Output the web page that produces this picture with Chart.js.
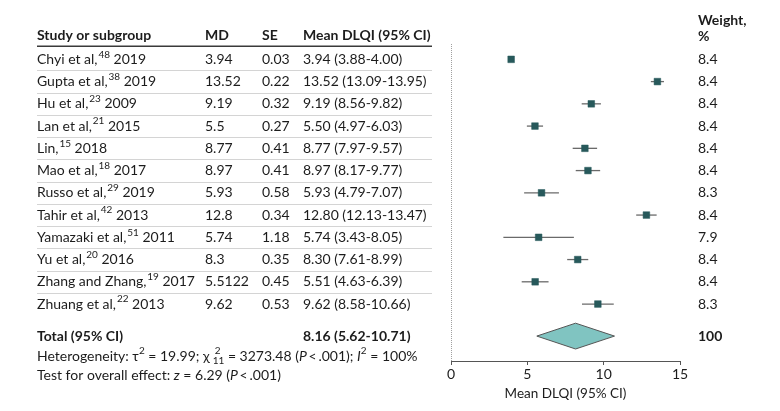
<!DOCTYPE html>
<html><head><meta charset="utf-8">
<script src="https://cdn.jsdelivr.net/npm/chart.js@4"></script>
<style>html,body{margin:0;padding:0;background:#fff}#wrap{width:780px;height:411px}</style>
</head><body><div id="wrap"><canvas id="c" width="780" height="411"></canvas></div>
<script>
// ---- data ----
const studies = ["Chyi et al,", "Gupta et al,", "Hu et al,", "Lan et al,", "Lin,", "Mao et al,", "Russo et al,", "Tahir et al,", "Yamazaki et al,", "Yu et al,", "Zhang and Zhang,", "Zhuang et al,"];
const refs = ["48", "38", "23", "21", "15", "18", "29", "42", "51", "20", "19", "22"];
const years = ["2019", "2019", "2009", "2015", "2018", "2017", "2019", "2013", "2011", "2016", "2017", "2013"];
const md = [3.94, 13.52, 9.19, 5.5, 8.77, 8.97, 5.93, 12.8, 5.74, 8.3, 5.5122, 9.62];
const se = [0.03, 0.22, 0.32, 0.27, 0.41, 0.41, 0.58, 0.34, 1.18, 0.35, 0.45, 0.53];
const ciLow = [3.88, 13.09, 8.56, 4.97, 7.97, 8.17, 4.79, 12.13, 3.43, 7.61, 4.63, 8.58];
const ciHigh = [4.00, 13.95, 9.82, 6.03, 9.57, 9.77, 7.07, 13.47, 8.05, 8.99, 6.39, 10.66];
const weights = [8.4, 8.4, 8.4, 8.4, 8.4, 8.4, 8.3, 8.4, 7.9, 8.4, 8.4, 8.3];
const totalMean = 8.16, totalLow = 5.62, totalHigh = 10.71, totalWeight = 100;
const xTicks = [0, 5, 10, 15];
const axisTitle = "Mean DLQI (95% CI)";

// ---- layout constants ----
const FONT = "Lato";
const TXT = "#1c1c1c";
const totalRow = 12.44;
const diamondHalf = 0.58;
const colStudy = 37, colMD = 205, colSE = 262, colCI = 303, colW = 698, tableRight = 432;

const whiskerSets = md.map((m, i) => ({
  data: [{x: ciLow[i], y: i}, {x: ciHigh[i], y: i}],
  showLine: true, borderColor: "#6a6a6a", borderWidth: 1.3, pointRadius: 0, order: 2
}));

const squares = {
  data: md.map((m, i) => ({x: m, y: i})),
  pointStyle: "rect", pointRadius: 4.7, backgroundColor: "#27595b",
  borderColor: "#27595b", borderWidth: 0.5, showLine: false, order: 1
};

const diamond = {
  data: [{x: totalLow, y: totalRow}, {x: totalMean, y: totalRow - diamondHalf},
         {x: totalHigh, y: totalRow}, {x: totalMean, y: totalRow + diamondHalf},
         {x: totalLow, y: totalRow}],
  showLine: true, fill: "shape", backgroundColor: "#80c4c1", borderColor: "#555",
  borderWidth: 1, pointRadius: 0, tension: 0, order: 3
};

function runs(ctx, x, y, parts, size) {
  const small = 10;
  for (const p of parts) {
    if (p.s === "sup") {
      ctx.font = `${small}px ${FONT}`;
      ctx.fillText(p.t, x, y - 5);
      x += ctx.measureText(p.t).width;
    } else if (p.s === "supsub") {
      ctx.font = `${small}px ${FONT}`;
      x += 3;
      ctx.fillText(p.sup, x + 2, y - 5);
      ctx.fillText(p.sub, x, y + 5);
      x += Math.max(ctx.measureText(p.sup).width + 2, ctx.measureText(p.sub).width);
    } else {
      ctx.font = `${p.s === "i" ? "italic " : ""}${p.b ? "bold " : ""}${size}px ${FONT}`;
      ctx.fillText(p.t, x, y);
      x += ctx.measureText(p.t).width;
    }
  }
  return x;
}

const tablePlugin = {
  id: "table",
  afterDraw(chart) {
    const ctx = chart.ctx;
    const ys = chart.scales.y;
    const py = v => ys.getPixelForValue(v);
    const y0 = py(0);
    const S = 14;
    ctx.save();
    ctx.fillStyle = TXT;
    ctx.textBaseline = "middle";
    ctx.textAlign = "left";
    // headers
    const hy = y0 - 23.5;
    ctx.font = `bold ${S}px ${FONT}`;
    ctx.fillText("Study or subgroup", colStudy, hy);
    ctx.fillText("MD", colMD, hy);
    ctx.fillText("SE", colSE, hy);
    ctx.fillText("Mean DLQI (95% CI)", colCI, hy);
    ctx.fillText("Weight,", colW, y0 - 38.5);
    ctx.fillText("%", colW, y0 - 23);
    // header rule
    ctx.strokeStyle = "#3a3a3a";
    ctx.lineWidth = 1.5;
    ctx.beginPath(); ctx.moveTo(colStudy, y0 - 13); ctx.lineTo(tableRight, y0 - 13); ctx.stroke();
    // row separators
    ctx.strokeStyle = "#d4d4d4";
    ctx.lineWidth = 1;
    for (let i = 0; i < studies.length - 1; i++) {
      const sy = Math.round((py(i) + py(i + 1)) / 2) + 0.5;
      ctx.beginPath(); ctx.moveTo(colStudy, sy); ctx.lineTo(tableRight, sy); ctx.stroke();
    }
    // rows
    ctx.fillStyle = TXT;
    studies.forEach((name, i) => {
      const y = py(i);
      runs(ctx, colStudy, y, [{t: name}, {t: "\u200a"}, {s: "sup", t: refs[i]}, {t: " " + years[i]}], S);
      ctx.font = `${S}px ${FONT}`;
      ctx.fillText(String(md[i]), colMD, y);
      ctx.fillText(se[i].toFixed(2), colSE, y);
      ctx.fillText(`${md[i].toFixed(2)} (${ciLow[i].toFixed(2)}-${ciHigh[i].toFixed(2)})`, colCI, y);
      ctx.fillText(weights[i].toFixed(1), colW, y);
    });
    // total
    const ty = py(totalRow);
    ctx.font = `bold ${S}px ${FONT}`;
    ctx.fillText("Total (95% CI)", colStudy, ty);
    ctx.fillText(`${totalMean.toFixed(2)} (${totalLow.toFixed(2)}-${totalHigh.toFixed(2)})`, colCI, ty);
    ctx.fillText(String(totalWeight), colW, ty);
    // heterogeneity
    runs(ctx, colStudy, ty + 20, [
      {t: "Heterogeneity: \u03c4"}, {s: "sup", t: "2"}, {t: " = 19.99; \u03c7"},
      {s: "supsub", sup: "2", sub: "11"}, {t: " = 3273.48 ("}, {s: "i", t: "P"},
      {t: "\u2009<\u2009.001); "}, {s: "i", t: "I"}, {s: "sup", t: "2"}, {t: " = 100%"}
    ], S);
    runs(ctx, colStudy, ty + 39, [
      {t: "Test for overall effect: "}, {s: "i", t: "z"}, {t: " = 6.29 ("}, {s: "i", t: "P"},
      {t: "\u2009<\u2009.001)"}
    ], S);
    ctx.restore();
  }
};

new Chart(document.getElementById("c"), {
  type: "scatter",
  data: {datasets: [...whiskerSets, squares, diamond]},
  options: {
    responsive: false,
    devicePixelRatio: 1,
    animation: false,
    layout: {padding: {left: 451, right: 100, top: 44, bottom: 0}},
    plugins: {legend: {display: false}, tooltip: {enabled: false}},
    scales: {
      x: {
        type: "linear", min: xTicks[0], max: xTicks[xTicks.length - 1],
        afterBuildTicks: s => { s.ticks = xTicks.map(v => ({value: v})); },
        afterFit: s => { s.height = 50; },
        ticks: {color: TXT, font: {family: FONT, size: 14}, padding: 1},
        grid: {
          drawOnChartArea: true, drawTicks: true, tickLength: 4, tickColor: "#555", tickWidth: 1,
          color: c => (c.tick && c.tick.value === 0) ? "#a0a0a0" : "rgba(0,0,0,0)", lineWidth: 1
        },
        border: {display: true, color: "#555", width: 1, dash: [1, 1]},
        title: {display: true, text: axisTitle, color: TXT, font: {family: FONT, size: 13.5}, padding: {top: 3, bottom: 9}}
      },
      y: {type: "linear", display: false, reverse: true, min: -0.69, max: 13.56}
    }
  },
  plugins: [tablePlugin]
});
</script></body></html>
